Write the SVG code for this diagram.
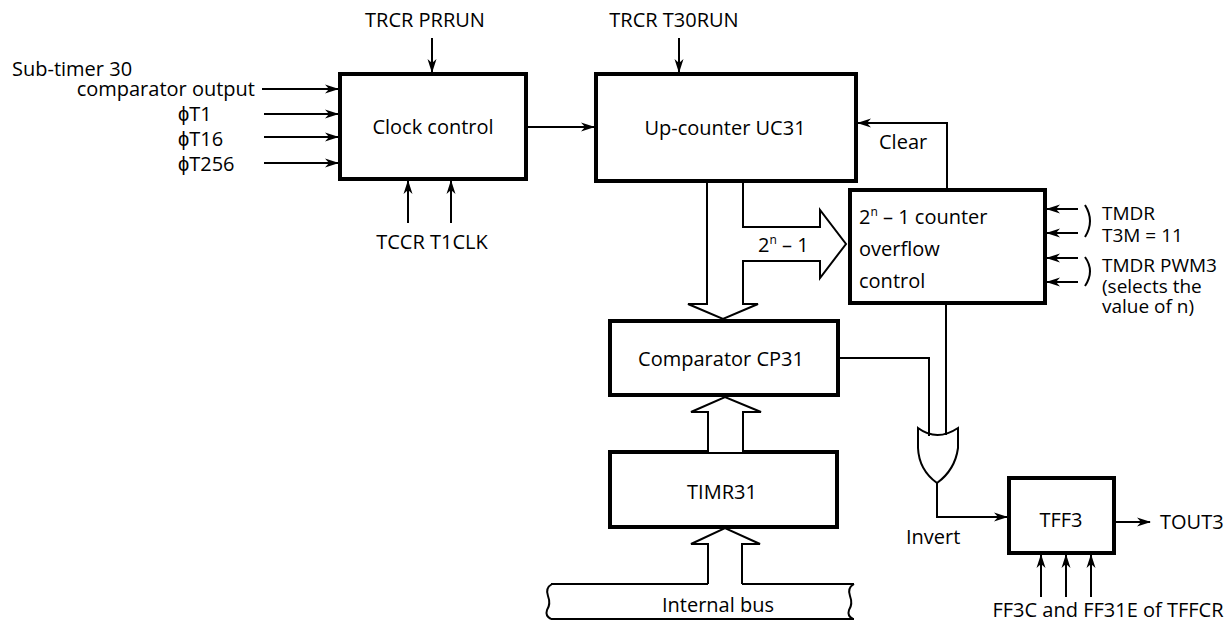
<svg xmlns="http://www.w3.org/2000/svg" width="1230" height="622" viewBox="0 0 1230 622">
<style>
text{font-family:"Open Sans","Liberation Sans",sans-serif;font-size:20px;fill:#000}
.sm{font-size:19px}
.box{fill:#fff;stroke:#000;stroke-width:4}
.ln{fill:none;stroke:#000;stroke-width:2}
.arw{fill:none;stroke:#000;stroke-width:2;marker-end:url(#ah)}
.big{fill:#fff;stroke:#000;stroke-width:2;stroke-linejoin:miter}
.m{text-anchor:middle}
</style>
<defs>
<marker id="ah" markerUnits="userSpaceOnUse" markerWidth="14" markerHeight="10" refX="13" refY="5" orient="auto">
<path d="M0,0.5 L14,5 L0,9.5 L4,5 Z" fill="#000"/>
</marker>
</defs>

<g id="labels-left">
<text x="12" y="76">Sub-timer 30</text>
<text x="255" y="96" text-anchor="end">comparator output</text>
<text x="178" y="121">ϕT1</text>
<text x="178" y="146">ϕT16</text>
<text x="178" y="171">ϕT256</text>
</g>

<g id="clock-control">
<rect class="box" x="340" y="74" width="186" height="105"/>
<text class="m" x="433" y="134">Clock control</text>
<text class="m" x="425" y="27">TRCR PRRUN</text>
<text class="m" x="432" y="249">TCCR T1CLK</text>
</g>

<g id="up-counter">
<rect class="box" x="596" y="74" width="260" height="107"/>
<text class="m" x="725" y="135">Up-counter UC31</text>
<text class="m" x="674" y="27">TRCR T30RUN</text>
</g>

<g id="overflow-control">
<rect class="box" x="850" y="190" width="195" height="113"/>
<text x="859" y="224">2<tspan font-size="12" dy="-8">n</tspan><tspan dy="8"> – 1 counter</tspan></text>
<text x="859" y="256">overflow</text>
<text x="859" y="288">control</text>
<text class="sm" x="1102" y="220">TMDR</text>
<text class="sm" x="1102" y="242">T3M = 11</text>
<text class="sm" x="1102" y="272">TMDR PWM3</text>
<text class="sm" x="1102" y="293">(selects the</text>
<text class="sm" x="1102" y="313">value of n)</text>
</g>

<g id="comparator">
<rect class="box" x="610" y="321" width="228" height="74"/>
<text class="m" x="721" y="366">Comparator CP31</text>
</g>

<g id="timr31">
<rect class="box" x="610" y="452" width="227" height="75"/>
<text class="m" x="722" y="499">TIMR31</text>
</g>

<g id="internal-bus">
<path class="ln" d="M551,584 L708,584 M742,584 L854,584 M551,619 L854,619"/>
<path class="ln" d="M552,584 Q545,588 548,596 Q551,604 547,610 Q545,616 551,619"/>
<path class="ln" d="M854,584 Q847,588 850,596 Q853,604 849,610 Q847,616 853,619"/>
<text class="m" x="718" y="612">Internal bus</text>
</g>

<g id="or-gate">
<path class="big" d="M918,428 Q937,442 958,428 L958,448 Q955,470 937,483 Q919,470 918,448 Z"/>
</g>

<g id="tff3">
<rect class="box" x="1009" y="478" width="105" height="75"/>
<text class="m" x="1061" y="527">TFF3</text>
<text x="1160" y="529">TOUT3</text>
<text class="m" x="1108" y="617">FF3C and FF31E of TFFCR</text>
</g>

<g id="connectors">
<line class="arw" x1="262" y1="89" x2="338" y2="89"/>
<line class="arw" x1="264" y1="114" x2="338" y2="114"/>
<line class="arw" x1="264" y1="137" x2="338" y2="137"/>
<line class="arw" x1="264" y1="163" x2="338" y2="163"/>
<line class="arw" x1="432" y1="38" x2="432" y2="72"/>
<line class="arw" x1="679" y1="38" x2="679" y2="72"/>
<line class="arw" x1="528" y1="127" x2="594" y2="127"/>
<line class="arw" x1="408" y1="223" x2="408" y2="181"/>
<line class="arw" x1="451" y1="223" x2="451" y2="181"/>
<path class="big" d="M707,183 L707,304 L688,304 L723,319 L758,304 L743,304 L743,261 L820,261 L820,278 L846,244 L820,210 L820,227 L743,227 L743,183"/>
<text x="758" y="252">2<tspan font-size="12" dy="-8">n</tspan><tspan dy="8"> – 1</tspan></text>
<path class="big" d="M708,452 L708,412 L691,412 L725,397 L761,412 L743,412 L743,452"/>
<path class="big" d="M708,584 L708,544 L691,544 L725,528 L760,544 L742,544 L742,584"/>
<path class="arw" d="M947,190 L947,123 L858,123"/>
<text x="879" y="149">Clear</text>
<line class="arw" x1="1078" y1="209" x2="1047" y2="209"/>
<line class="arw" x1="1078" y1="233" x2="1047" y2="233"/>
<line class="arw" x1="1078" y1="258" x2="1047" y2="258"/>
<line class="arw" x1="1078" y1="282" x2="1047" y2="282"/>
<path class="ln" d="M1085,205 Q1095,221 1085,237 M1085,257 Q1095,271 1085,286"/>
<path class="ln" d="M946,303 L946,435"/>
<path class="ln" d="M838,358 L929,358 L929,436"/>
<path class="arw" d="M937,483 L937,517 L1007,517"/>
<text x="906" y="544">Invert</text>
<line class="arw" x1="1116" y1="522" x2="1150" y2="522"/>
<line class="arw" x1="1041" y1="597" x2="1041" y2="555"/>
<line class="arw" x1="1066" y1="597" x2="1066" y2="555"/>
<line class="arw" x1="1091" y1="597" x2="1091" y2="555"/>
</g>
</svg>
